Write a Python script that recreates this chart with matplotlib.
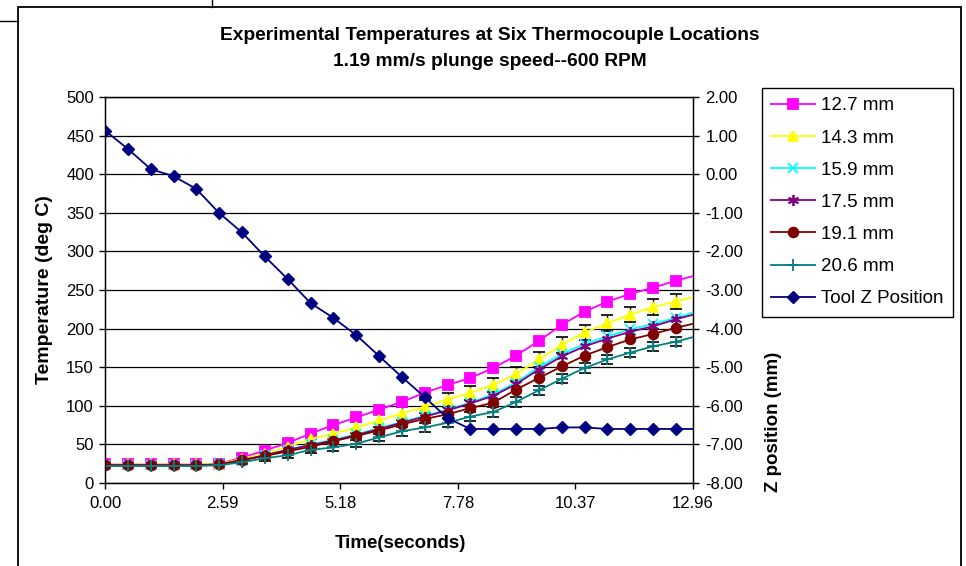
import matplotlib
matplotlib.use("Agg")
import matplotlib.pyplot as plt
from matplotlib.lines import Line2D
from matplotlib.patches import Rectangle

plt.rcParams["font.family"] = ["Liberation Sans", "DejaVu Sans"]

# time (s) of each sample; the last one lies just past the axis end
TIME = [0.00, 0.50, 1.01, 1.51, 2.01, 2.52, 3.02, 3.52, 4.03, 4.53, 5.03, 5.54, 6.04,
        6.54, 7.05, 7.55, 8.05, 8.56, 9.06, 9.56, 10.07, 10.57, 11.07, 11.58, 12.08,
        12.58, 13.09]

T_127 = [24, 24, 24, 24, 24, 25, 33, 42, 52, 64, 75, 85, 95, 105, 117, 127, 136, 149,
         165, 184, 205, 222, 235, 245, 253, 262, 270]
T_143 = [24, 24, 24, 24, 24, 25, 31, 38, 47, 57, 64, 72, 81, 90, 99, 108, 117, 127,
         141, 160, 179, 195, 207, 218, 228, 235, 243]
T_159 = [23, 23, 23, 23, 23, 24, 29, 36, 43, 50, 56, 63, 71, 79, 87, 95, 104, 115,
         130, 150, 167, 180, 190, 199, 206, 214, 223]
T_175 = [23, 23, 23, 23, 23, 24, 29, 36, 43, 49, 55, 62, 70, 78, 86, 94, 103, 113,
         128, 147, 164, 177, 187, 196, 203, 212, 220]
T_191 = [23, 23, 23, 23, 23, 24, 30, 35, 41, 47, 54, 61, 68, 76, 83, 89, 97, 104,
         121, 136, 151, 165, 176, 186, 193, 201, 208]
T_206 = [22, 22, 22, 22, 22, 23, 27, 32, 36, 43, 46, 51, 59, 67, 72, 78, 86, 92,
         105, 120, 135, 149, 160, 169, 177, 183, 191]
TOOL_Z = [1.13, 0.66, 0.13, -0.05, -0.38, -1.01, -1.51, -2.13, -2.72, -3.34, -3.72,
          -4.17, -4.71, -5.25, -5.78, -6.32, -6.60, -6.60, -6.60, -6.60, -6.56, -6.56,
          -6.60, -6.60, -6.60, -6.60, -6.60]

# error bar half-widths (deg C)
ERR_143 = [0, 0, 0, 0, 0, 0, 2, 4, 5, 6, 7, 7, 8, 8, 8, 9, 9, 9, 9, 10, 10, 10, 10,
           10, 10, 10, 10]
ERR_206 = [0, 0, 0, 0, 0, 0, 2, 3, 4, 4, 5, 5, 5, 6, 6, 6, 6, 6, 6, 6, 6, 6, 6, 6,
           6, 6, 6]

X_TICKS = [0.00, 2.59, 5.18, 7.78, 10.37, 12.96]

W, H = 966, 566
fig = plt.figure(figsize=(W / 100, H / 100), dpi=100)
ax = fig.add_axes([105 / W, 1 - 483 / H, (693 - 105) / W, (483 - 97) / H])

series = [
    ("12.7 mm", T_127, "#FF00FF", "s", 6.5, None),
    ("14.3 mm", T_143, "#FFFF00", "^", 7.5, ERR_143),
    ("15.9 mm", T_159, "#00FFFF", "x", 7, None),
    ("17.5 mm", T_175, "#800080", (6, 2, 0), 8, None),
    ("19.1 mm", T_191, "#800000", "o", 7, None),
    ("20.6 mm", T_206, "#008080", "+", 8, ERR_206),
]

handles = []
for label, vals, color, marker, ms, err in series:
    if err is not None:
        ax.errorbar(TIME, vals, yerr=err, fmt="none", ecolor="black", elinewidth=1.0,
                    capsize=4.5, capthick=1.2, zorder=2)
    (h,) = ax.plot(TIME, vals, color=color, lw=1.3, marker=marker, ms=ms,
                   mec=color, mfc=color, mew=1.3, label=label, zorder=3)
    handles.append(h)

ax.set_xlim(0, 12.96)
ax.set_ylim(0, 500)
ax.set_yticks(range(0, 501, 50))
ax.set_xticks(X_TICKS)
ax.set_xticklabels([f"{t:.2f}" for t in X_TICKS])
ax.grid(axis="y", color="black", lw=0.9)
ax.set_axisbelow(True)
ax.tick_params(direction="out", length=4, width=1, labelsize=12, color="black")
ax.tick_params(axis="y", pad=4)
ax.tick_params(axis="x", pad=5)
for sp in ax.spines.values():
    sp.set_color("black")
    sp.set_linewidth(1)

ax2 = ax.twinx()
(hz,) = ax2.plot(TIME, TOOL_Z, color="#000080", lw=1.3, marker="D", ms=6.5,
                 mec="#000080", mfc="#000080", label="Tool Z Position")
handles.append(hz)
ax2.set_ylim(-8, 2)
ax2.set_yticks(range(-8, 3))
ax2.set_yticklabels([f"{v:.2f}" for v in range(-8, 3)])
ax2.tick_params(direction="out", length=4, width=1, labelsize=12, pad=5)
for sp in ax2.spines.values():
    sp.set_color("black")

fig.text(490 / W, 1 - 35 / H, "Experimental Temperatures at Six Thermocouple Locations",
         ha="center", va="center", fontsize=13.8, fontweight="bold")
fig.text(490 / W, 1 - 61 / H, "1.19 mm/s plunge speed--600 RPM",
         ha="center", va="center", fontsize=13.8, fontweight="bold")
fig.text(45 / W, 1 - 290 / H, "Temperature (deg C)", rotation=90,
         ha="center", va="center", fontsize=14, fontweight="bold")
fig.text(773 / W, 1 - 422 / H, "Z position (mm)", rotation=90,
         ha="center", va="center", fontsize=13.5, fontweight="bold")
fig.text(400 / W, 1 - 544 / H, "Time(seconds)",
         ha="center", va="center", fontsize=13.5, fontweight="bold")

leg = fig.legend(handles, [h.get_label() for h in handles], loc="upper left",
                 bbox_to_anchor=(762 / W, 1 - 88 / H), fontsize=13.5, frameon=True,
                 fancybox=False, edgecolor="black", framealpha=1,
                 handlelength=2.35, handletextpad=0.3, labelspacing=0.8,
                 borderpad=0.5, borderaxespad=0)
leg.get_frame().set_linewidth(1)

# chart area border and the bits of page around it
fig.add_artist(Rectangle((18 / W, -0.05), (961 - 18) / W, 1 - 7 / H + 0.05,
                         transform=fig.transFigure, fill=False, ec="black", lw=1.3))
fig.add_artist(Line2D([0, 18 / W], [1 - 21 / H] * 2, color="black", lw=1))
fig.add_artist(Line2D([212 / W] * 2, [1, 1 - 7 / H], color="black", lw=1))

fig.savefig("out.png", dpi=100)
